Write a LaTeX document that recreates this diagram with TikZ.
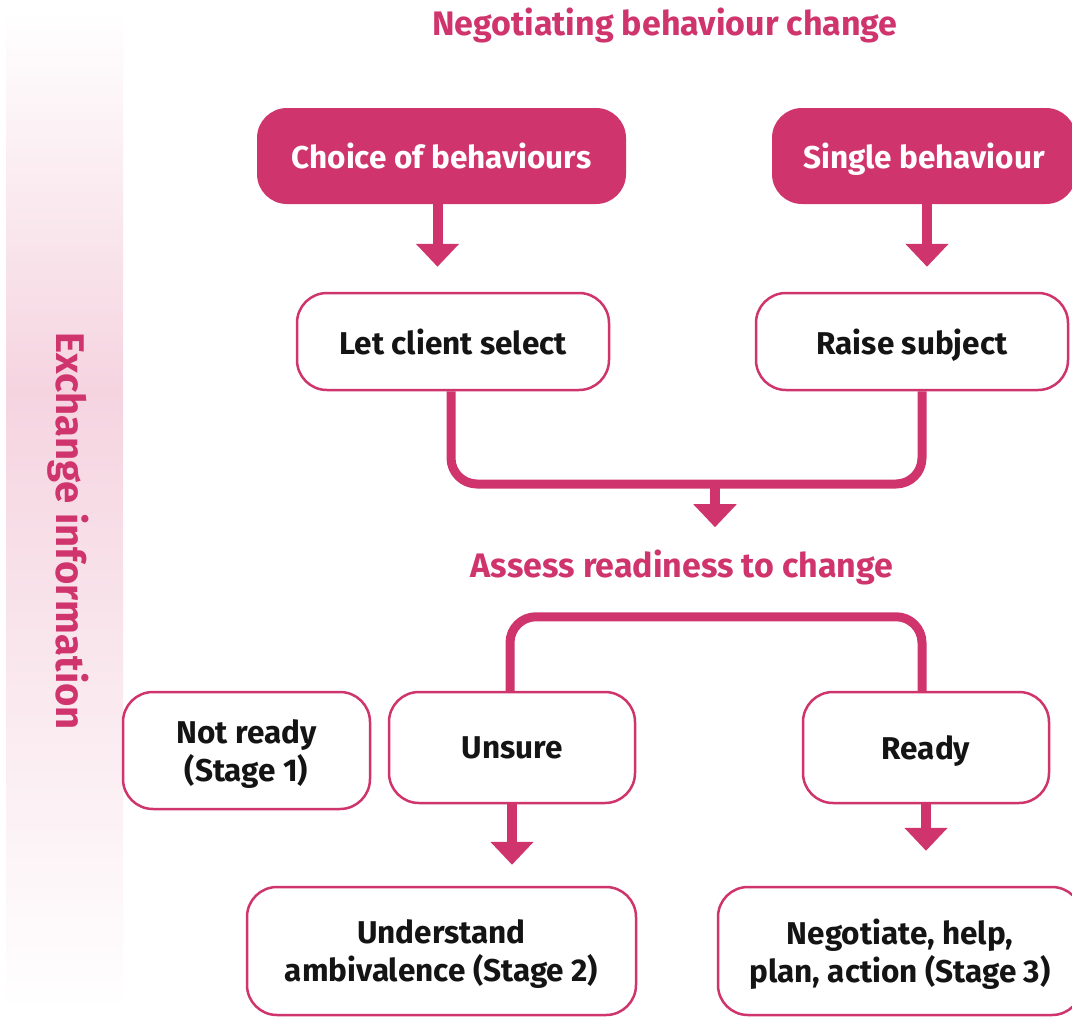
\documentclass[tikz,border=0pt]{standalone}
\usepackage{fontspec}
\setmainfont{Fira Sans}
\usetikzlibrary{arrows.meta}
\definecolor{pk}{RGB}{207,53,108}
\definecolor{bandpk}{RGB}{245,212,224}
\definecolor{ink}{RGB}{20,20,20}
\begin{document}
\begin{tikzpicture}[x=1pt,y=-1pt,
  every node/.style={inner sep=0pt, font=\fontsize{31.5}{38}\selectfont\bfseries},
  sz/.style n args={2}{minimum width=#1, minimum height=#2},
  solidbox/.style={fill=pk, text=white, rounded corners=30pt, text depth=0pt},
  linebox/.style={draw=pk, line width=2.5pt, fill=white, text=ink, rounded corners=30pt, align=center, text depth=0pt},
  heading/.style={text=pk, anchor=base, font=\fontsize{34}{40}\selectfont\bfseries},
  conn/.style={draw=pk, line width=9pt, rounded corners=26pt},
  arr/.style={draw=pk, line width=10pt, -{Triangle[width=42pt,length=23pt]}}
]
\useasboundingbox (0,0) rectangle (1072,1018);
% side band
\shade[top color=white, bottom color=bandpk] (6,10) rectangle (123,390);
\shade[top color=bandpk, bottom color=white] (6,390) rectangle (123,1010);
\node[rotate=-90, text=pk, font=\fontsize{40}{46}\selectfont\bfseries] (ex) at (68,531) {Exchange information};

% headings
\node[heading] (title) at (665,35) {Negotiating behaviour change};
\node[heading] (assess) at (682,577) {Assess readiness to change};

% boxes
\node[solidbox, sz={369pt}{96pt}] (choice) at (441.5,156) {Choice of behaviours};
\node[solidbox, sz={304pt}{96pt}] (single) at (924,156) {Single behaviour};
\node[linebox, sz={312pt}{97pt}] (let) at (453,341.5) {Let client select};
\node[linebox, sz={312pt}{97pt}] (raise) at (912,341.5) {Raise subject};
\node[linebox, sz={247pt}{117pt}] (notready) at (246.5,750.5) {Not ready\\(Stage 1)};
\node[linebox, sz={246pt}{111pt}] (unsure) at (512,747.5) {Unsure};
\node[linebox, sz={246pt}{111pt}] (ready) at (926,747.5) {Ready};
\node[linebox, sz={389pt}{128pt}] (understand) at (441.5,951) {Understand\\ambivalence (Stage 2)};
\node[linebox, sz={364pt}{128pt}] (negotiate) at (900,951) {Negotiate, help,\\plan, action (Stage 3)};

% connectors
\coordinate (j1) at (715,484);
\draw[conn] ([xshift=-2pt]let.south) |- (j1) -| ([xshift=10pt]raise.south);
\draw[arr] (j1) -- ([yshift=22pt]assess.north -| j1);
\draw[conn] ([xshift=-2pt]unsure.north) -- ++(0,-74) -| ([xshift=-4pt]ready.north);

\draw[arr, shorten >=25pt] ([xshift=-4pt]choice.south) -- ([xshift=-4pt]choice.south |- let.north);
\draw[arr, shorten >=25pt] ([xshift=3pt]single.south) -- ([xshift=3pt]single.south |- raise.north);
\draw[arr, shorten >=21pt] (unsure.south) -- (unsure.south |- understand.north);
\draw[arr, shorten >=35pt] (ready.south) -- (ready.south |- negotiate.north);
\end{tikzpicture}
\end{document}
